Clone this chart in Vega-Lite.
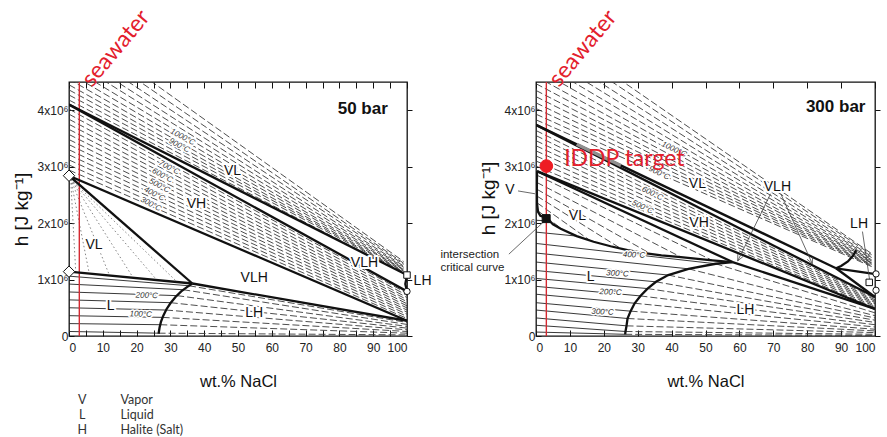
{
"$schema": "https://vega.github.io/schema/vega-lite/v6.json",
"background": "white",
"padding": {"left": 11, "top": 5, "right": 0, "bottom": 1},
"bounds": "flush",
"spacing": 129,
"config": {
  "view": {"stroke": "#111", "strokeWidth": 1.3},
  "axis": {"grid": false, "domain": false, "labelFont": "Liberation Sans", "titleFont": "Liberation Sans", "labelFontSize": 12, "labelColor": "#222", "titleColor": "#111", "titleFontWeight": "normal", "tickColor": "#111", "tickWidth": 1},
  "text": {"font": "Liberation Sans"}
},
"datasets": {
"lines50": [
{"id":"a1","k":"dash","x":0,"h":2.94},{"id":"a1","k":"dash","x":100,"h":0.311},
{"id":"a2","k":"dash","x":0,"h":3.03},{"id":"a2","k":"dash","x":100,"h":0.348},
{"id":"a3","k":"dash","x":0,"h":3.12},{"id":"a3","k":"dash","x":100,"h":0.386},
{"id":"a4","k":"dash","x":0,"h":3.21},{"id":"a4","k":"dash","x":100,"h":0.423},
{"id":"a5","k":"dash","x":0,"h":3.30},{"id":"a5","k":"dash","x":100,"h":0.46},
{"id":"a6","k":"dash","x":0,"h":3.39},{"id":"a6","k":"dash","x":100,"h":0.497},
{"id":"a7","k":"dash","x":0,"h":3.48},{"id":"a7","k":"dash","x":100,"h":0.534},
{"id":"a8","k":"dash","x":0,"h":3.57},{"id":"a8","k":"dash","x":100,"h":0.571},
{"id":"a9","k":"dash","x":0,"h":3.66},{"id":"a9","k":"dash","x":100,"h":0.608},
{"id":"a10","k":"dash","x":0,"h":3.75},{"id":"a10","k":"dash","x":100,"h":0.645},
{"id":"a11","k":"dash","x":0,"h":3.84},{"id":"a11","k":"dash","x":100,"h":0.682},
{"id":"a12","k":"dash","x":0,"h":3.93},{"id":"a12","k":"dash","x":100,"h":0.72},
{"id":"a13","k":"dash","x":0,"h":4.02},{"id":"a13","k":"dash","x":100,"h":0.757},
{"id":"u1","k":"dash","x":0,"h":4.18},{"id":"u1","k":"dash","x":99,"h":1.11},
{"id":"u2","k":"dash","x":0,"h":4.27},{"id":"u2","k":"dash","x":99,"h":1.13},
{"id":"u3","k":"dash","x":0,"h":4.36},{"id":"u3","k":"dash","x":99,"h":1.14},
{"id":"u4","k":"dash","x":0,"h":4.45},{"id":"u4","k":"dash","x":99,"h":1.15},
{"id":"u5","k":"dash","x":0,"h":4.55},{"id":"u5","k":"dash","x":99,"h":1.17},
{"id":"u6","k":"dash","x":0,"h":4.66},{"id":"u6","k":"dash","x":99,"h":1.18},
{"id":"u7","k":"dash","x":0,"h":4.78},{"id":"u7","k":"dash","x":99,"h":1.2},
{"id":"u8","k":"dash","x":0,"h":4.91},{"id":"u8","k":"dash","x":99,"h":1.22},
{"id":"u9","k":"dash","x":0,"h":5.05},{"id":"u9","k":"dash","x":99,"h":1.24},
{"id":"u10","k":"dash","x":0,"h":5.2},{"id":"u10","k":"dash","x":99,"h":1.27},
{"id":"u11","k":"dash","x":0,"h":5.37},{"id":"u11","k":"dash","x":99,"h":1.29},
{"id":"u12","k":"dash","x":0,"h":5.55},{"id":"u12","k":"dash","x":99,"h":1.32},
{"id":"l1","k":"dash","x":26.5,"h":0.05},{"id":"l1","k":"dash","x":100,"h":0.02},
{"id":"l2","k":"dash","x":27,"h":0.2},{"id":"l2","k":"dash","x":100,"h":0.05},
{"id":"l3","k":"dash","x":27.7,"h":0.33},{"id":"l3","k":"dash","x":100,"h":0.08},
{"id":"l4","k":"dash","x":28.7,"h":0.46},{"id":"l4","k":"dash","x":100,"h":0.11},
{"id":"l5","k":"dash","x":30.1,"h":0.59},{"id":"l5","k":"dash","x":100,"h":0.14},
{"id":"l6","k":"dash","x":32,"h":0.715},{"id":"l6","k":"dash","x":100,"h":0.17},
{"id":"l7","k":"dash","x":33.8,"h":0.82},{"id":"l7","k":"dash","x":100,"h":0.205},
{"id":"l8","k":"dash","x":35.5,"h":0.89},{"id":"l8","k":"dash","x":100,"h":0.24},
{"id":"t1","k":"dot","x":0.5,"h":2.78},{"id":"t1","k":"dot","x":2,"h":1.128},
{"id":"t2","k":"dot","x":0.5,"h":2.78},{"id":"t2","k":"dot","x":6,"h":1.105},
{"id":"t3","k":"dot","x":0.5,"h":2.78},{"id":"t3","k":"dot","x":12,"h":1.071},
{"id":"t4","k":"dot","x":0.5,"h":2.78},{"id":"t4","k":"dot","x":19,"h":1.031},
{"id":"t5","k":"dot","x":0.5,"h":2.78},{"id":"t5","k":"dot","x":26,"h":0.99},
{"id":"t6","k":"dot","x":0.5,"h":2.78},{"id":"t6","k":"dot","x":32,"h":0.956},
{"id":"i1","k":"iso","x":0,"h":0.08},{"id":"i1","k":"iso","x":26.5,"h":0.05},
{"id":"i2","k":"iso","x":0,"h":0.22},{"id":"i2","k":"iso","x":27,"h":0.2},
{"id":"i3","k":"iso","x":0,"h":0.36},{"id":"i3","k":"iso","x":27.7,"h":0.33},
{"id":"i4","k":"iso","x":0,"h":0.5},{"id":"i4","k":"iso","x":28.7,"h":0.46},
{"id":"i5","k":"iso","x":0,"h":0.64},{"id":"i5","k":"iso","x":30.1,"h":0.59},
{"id":"i6","k":"iso","x":0,"h":0.78},{"id":"i6","k":"iso","x":32,"h":0.715},
{"id":"i7","k":"iso","x":0,"h":0.92},{"id":"i7","k":"iso","x":33.8,"h":0.82},
{"id":"i8","k":"iso","x":0,"h":1.06},{"id":"i8","k":"iso","x":35.5,"h":0.89},
{"id":"b1","k":"bound","x":0,"h":4.1},{"id":"b1","k":"bound","x":100,"h":1.08},
{"id":"b2","k":"bound","x":0,"h":4.1},{"id":"b2","k":"bound","x":100,"h":0.79},
{"id":"b3","k":"bound","x":100,"h":1.08},{"id":"b3","k":"bound","x":99.5,"h":0.92},{"id":"b3","k":"bound","x":100,"h":0.79},
{"id":"b4","k":"bound","x":0,"h":2.84},{"id":"b4","k":"bound","x":100,"h":0.27},
{"id":"b5","k":"bound","x":0,"h":2.84},{"id":"b5","k":"bound","x":36.5,"h":0.93},
{"id":"b6","k":"bound","x":36.5,"h":0.93},{"id":"b6","k":"bound","x":100,"h":0.27},
{"id":"b7","k":"bound","x":0,"h":1.14},{"id":"b7","k":"bound","x":36.5,"h":0.93},
{"id":"b8","k":"bound","x":26.5,"h":0.04},{"id":"b8","k":"bound","x":26.8,"h":0.15},{"id":"b8","k":"bound","x":27.2,"h":0.25},{"id":"b8","k":"bound","x":27.9,"h":0.36},{"id":"b8","k":"bound","x":28.8,"h":0.47},{"id":"b8","k":"bound","x":30,"h":0.58},{"id":"b8","k":"bound","x":31.5,"h":0.69},{"id":"b8","k":"bound","x":33.2,"h":0.79},{"id":"b8","k":"bound","x":35,"h":0.87},{"id":"b8","k":"bound","x":36.5,"h":0.93},
{"id":"r","k":"red","x":3.05,"h":0},{"id":"r","k":"red","x":3.05,"h":4.5}
],
"lines300": [
{"id":"a1","k":"dash","x":0,"h":3.01},{"id":"a1","k":"dash","x":100,"h":0.503},
{"id":"a2","k":"dash","x":0,"h":3.1},{"id":"a2","k":"dash","x":100,"h":0.526},
{"id":"a3","k":"dash","x":0,"h":3.19},{"id":"a3","k":"dash","x":100,"h":0.549},
{"id":"a4","k":"dash","x":0,"h":3.28},{"id":"a4","k":"dash","x":100,"h":0.572},
{"id":"a5","k":"dash","x":0,"h":3.37},{"id":"a5","k":"dash","x":100,"h":0.595},
{"id":"a6","k":"dash","x":0,"h":3.46},{"id":"a6","k":"dash","x":100,"h":0.618},
{"id":"a7","k":"dash","x":0,"h":3.55},{"id":"a7","k":"dash","x":100,"h":0.641},
{"id":"a8","k":"dash","x":0,"h":3.64},{"id":"a8","k":"dash","x":100,"h":0.664},
{"id":"u1","k":"dash","x":0,"h":3.83},{"id":"u1","k":"dash","x":99,"h":1.23},
{"id":"u2","k":"dash","x":0,"h":3.93},{"id":"u2","k":"dash","x":99,"h":1.245},
{"id":"u3","k":"dash","x":0,"h":4.03},{"id":"u3","k":"dash","x":99,"h":1.26},
{"id":"u4","k":"dash","x":0,"h":4.13},{"id":"u4","k":"dash","x":99,"h":1.27},
{"id":"u5","k":"dash","x":0,"h":4.24},{"id":"u5","k":"dash","x":99,"h":1.29},
{"id":"u6","k":"dash","x":0,"h":4.35},{"id":"u6","k":"dash","x":99,"h":1.3},
{"id":"u7","k":"dash","x":0,"h":4.47},{"id":"u7","k":"dash","x":99,"h":1.32},
{"id":"u8","k":"dash","x":0,"h":4.6},{"id":"u8","k":"dash","x":99,"h":1.33},
{"id":"u9","k":"dash","x":0,"h":4.74},{"id":"u9","k":"dash","x":99,"h":1.35},
{"id":"u10","k":"dash","x":0,"h":4.89},{"id":"u10","k":"dash","x":99,"h":1.37},
{"id":"u11","k":"dash","x":0,"h":5.05},{"id":"u11","k":"dash","x":99,"h":1.39},
{"id":"u12","k":"dash","x":0,"h":5.22},{"id":"u12","k":"dash","x":99,"h":1.41},
{"id":"u13","k":"dash","x":0,"h":5.4},{"id":"u13","k":"dash","x":99,"h":1.44},
{"id":"u14","k":"dash","x":0,"h":5.57},{"id":"u14","k":"dash","x":99,"h":1.46},
{"id":"v1","k":"dash","x":0.25,"h":2.85},{"id":"v1","k":"dash","x":52,"h":1.34},
{"id":"v2","k":"dash","x":0.25,"h":2.72},{"id":"v2","k":"dash","x":43,"h":1.39},
{"id":"v3","k":"dash","x":0.25,"h":2.6},{"id":"v3","k":"dash","x":34,"h":1.45},
{"id":"v4","k":"dash","x":0.25,"h":2.48},{"id":"v4","k":"dash","x":25,"h":1.55},
{"id":"v5","k":"dash","x":0.3,"h":2.36},{"id":"v5","k":"dash","x":16,"h":1.69},
{"id":"v6","k":"dash","x":0.5,"h":2.22},{"id":"v6","k":"dash","x":8,"h":1.88},
{"id":"l1","k":"dash","x":26.3,"h":0.03},{"id":"l1","k":"dash","x":100,"h":0.01},
{"id":"l2","k":"dash","x":26.4,"h":0.08},{"id":"l2","k":"dash","x":100,"h":0.03},
{"id":"l3","k":"dash","x":26.7,"h":0.18},{"id":"l3","k":"dash","x":100,"h":0.06},
{"id":"l4","k":"dash","x":27,"h":0.31},{"id":"l4","k":"dash","x":100,"h":0.09},
{"id":"l5","k":"dash","x":27.9,"h":0.44},{"id":"l5","k":"dash","x":100,"h":0.12},
{"id":"l6","k":"dash","x":29.1,"h":0.58},{"id":"l6","k":"dash","x":100,"h":0.16},
{"id":"l7","k":"dash","x":30.8,"h":0.71},{"id":"l7","k":"dash","x":100,"h":0.2},
{"id":"l8","k":"dash","x":32.9,"h":0.84},{"id":"l8","k":"dash","x":100,"h":0.24},
{"id":"l9","k":"dash","x":35.4,"h":0.96},{"id":"l9","k":"dash","x":100,"h":0.28},
{"id":"l10","k":"dash","x":39,"h":1.08},{"id":"l10","k":"dash","x":100,"h":0.32},
{"id":"l11","k":"dash","x":45,"h":1.19},{"id":"l11","k":"dash","x":100,"h":0.36},
{"id":"l12","k":"dash","x":53,"h":1.28},{"id":"l12","k":"dash","x":100,"h":0.41},
{"id":"i1","k":"iso","x":0,"h":0.07},{"id":"i1","k":"iso","x":26.3,"h":0.03},
{"id":"i2","k":"iso","x":0,"h":0.19},{"id":"i2","k":"iso","x":26.4,"h":0.08},
{"id":"i3","k":"iso","x":0,"h":0.32},{"id":"i3","k":"iso","x":26.7,"h":0.18},
{"id":"i4","k":"iso","x":0,"h":0.46},{"id":"i4","k":"iso","x":27,"h":0.31},
{"id":"i5","k":"iso","x":0,"h":0.59},{"id":"i5","k":"iso","x":27.9,"h":0.44},
{"id":"i6","k":"iso","x":0,"h":0.74},{"id":"i6","k":"iso","x":29.1,"h":0.58},
{"id":"i7","k":"iso","x":0,"h":0.88},{"id":"i7","k":"iso","x":30.8,"h":0.71},
{"id":"i8","k":"iso","x":0,"h":1.02},{"id":"i8","k":"iso","x":32.9,"h":0.84},
{"id":"i9","k":"iso","x":0,"h":1.16},{"id":"i9","k":"iso","x":35.4,"h":0.96},
{"id":"i10","k":"iso","x":0,"h":1.31},{"id":"i10","k":"iso","x":39,"h":1.08},
{"id":"i11","k":"iso","x":0,"h":1.47},{"id":"i11","k":"iso","x":45,"h":1.19},
{"id":"i12","k":"iso","x":0,"h":1.64},{"id":"i12","k":"iso","x":53,"h":1.28},
{"id":"i13","k":"iso","x":0,"h":1.84},{"id":"i13","k":"iso","x":12,"h":1.77},
{"id":"i14","k":"iso","x":0,"h":2.05},{"id":"i14","k":"iso","x":4,"h":2.04},
{"id":"R1","k":"bound","x":0,"h":3.74},{"id":"R1","k":"bound","x":88.5,"h":1.2},
{"id":"R2","k":"bound","x":0,"h":3.74},{"id":"R2","k":"bound","x":100,"h":0.69},
{"id":"R3","k":"bound","x":88.5,"h":1.2},{"id":"R3","k":"bound","x":100,"h":0.69},
{"id":"R4","k":"bound","x":0.3,"h":2.92},{"id":"R4","k":"bound","x":58,"h":1.31},
{"id":"R5","k":"bound","x":0.3,"h":2.92},{"id":"R5","k":"bound","x":100,"h":0.48},
{"id":"R6","k":"bound","x":58,"h":1.31},{"id":"R6","k":"bound","x":100,"h":0.48},
{"id":"VAP","k":"bound","x":0.3,"h":2.92},{"id":"VAP","k":"bound","x":0.25,"h":2.6},{"id":"VAP","k":"bound","x":0.3,"h":2.35},{"id":"VAP","k":"bound","x":0.6,"h":2.2},{"id":"VAP","k":"bound","x":1.3,"h":2.13},{"id":"VAP","k":"bound","x":3.2,"h":2.09},
{"id":"LIQ","k":"bound","x":3.2,"h":2.09},{"id":"LIQ","k":"bound","x":5,"h":1.98},{"id":"LIQ","k":"bound","x":7.3,"h":1.9},{"id":"LIQ","k":"bound","x":12,"h":1.77},{"id":"LIQ","k":"bound","x":17,"h":1.67},{"id":"LIQ","k":"bound","x":22,"h":1.59},{"id":"LIQ","k":"bound","x":27,"h":1.52},{"id":"LIQ","k":"bound","x":32,"h":1.47},{"id":"LIQ","k":"bound","x":37,"h":1.43},{"id":"LIQ","k":"bound","x":42,"h":1.4},{"id":"LIQ","k":"bound","x":47,"h":1.37},{"id":"LIQ","k":"bound","x":52,"h":1.34},{"id":"LIQ","k":"bound","x":58,"h":1.31},
{"id":"LQS","k":"bound","x":26.3,"h":0.03},{"id":"LQS","k":"bound","x":26.4,"h":0.08},{"id":"LQS","k":"bound","x":26.7,"h":0.18},{"id":"LQS","k":"bound","x":27,"h":0.31},{"id":"LQS","k":"bound","x":27.9,"h":0.44},{"id":"LQS","k":"bound","x":29.1,"h":0.58},{"id":"LQS","k":"bound","x":30.8,"h":0.71},{"id":"LQS","k":"bound","x":32.9,"h":0.84},{"id":"LQS","k":"bound","x":35.4,"h":0.96},{"id":"LQS","k":"bound","x":39,"h":1.08},{"id":"LQS","k":"bound","x":45,"h":1.19},{"id":"LQS","k":"bound","x":53,"h":1.28},{"id":"LQS","k":"bound","x":58,"h":1.31},
{"id":"UC","k":"bound","x":88.5,"h":1.2},{"id":"UC","k":"bound","x":90,"h":1.24},{"id":"UC","k":"bound","x":92,"h":1.32},{"id":"UC","k":"bound","x":93.5,"h":1.42},{"id":"UC","k":"bound","x":94.5,"h":1.52},
{"id":"UT","k":"bound","x":88.5,"h":1.2},{"id":"UT","k":"bound","x":99.7,"h":1.1},
{"id":"g1","k":"gray","x":12,"h":3.396},{"id":"g1","k":"gray","x":25,"h":3.02},
{"id":"r","k":"red","x":3.05,"h":0},{"id":"r","k":"red","x":3.05,"h":4.5},
{"id":"k1","k":"lead","x":-5.3,"h":2.57},{"id":"k1","k":"lead","x":-0.3,"h":2.52},
{"id":"k2","k":"lead","x":-8,"h":1.45},{"id":"k2","k":"lead","x":2.2,"h":2.02},
{"id":"k3","k":"lead","x":69.2,"h":2.52},{"id":"k3","k":"lead","x":59.5,"h":1.33},
{"id":"k4","k":"lead","x":61.1,"h":1.41},{"id":"k4","k":"lead","x":59.5,"h":1.33},{"id":"k4","k":"lead","x":59.53,"h":1.45},
{"id":"k5","k":"lead","x":72.2,"h":2.52},{"id":"k5","k":"lead","x":81.5,"h":1.28},
{"id":"k6","k":"lead","x":81.58,"h":1.4},{"id":"k6","k":"lead","x":81.5,"h":1.28},{"id":"k6","k":"lead","x":79.97,"h":1.36},
{"id":"k7","k":"lead","x":96.3,"h":1.85},{"id":"k7","k":"lead","x":98.4,"h":1.0}
],
"marks50": [
{"m":"dia","x":0,"h":2.84},{"m":"dia","x":0,"h":1.14},{"m":"sqo","x":100,"h":1.08},{"m":"cio","x":100,"h":0.79}
],
"marks300": [
{"m":"red","x":3.05,"h":3.01},{"m":"sqb","x":3.0,"h":2.08},{"m":"sqo","x":98.3,"h":0.95},{"m":"cio","x":100.3,"h":1.1},{"m":"cio","x":100.3,"h":0.81}
],
"text50": [
{"g":"phase","t":"VL","x":48.4,"h":2.93},{"g":"phase","t":"VH","x":37.7,"h":2.33},{"g":"phase","t":"VL","x":7.4,"h":1.61},{"g":"phase","t":"VLH","x":54.8,"h":1.02},{"g":"phase","t":"VLH","x":87.4,"h":1.3},{"g":"phase","t":"L","x":12.3,"h":0.54},{"g":"phase","t":"LH","x":54.8,"h":0.41},{"g":"phase","t":"LH","x":104.6,"h":0.98},
{"g":"bar","t":"50 bar","x":86.9,"h":4.02},
{"g":"isoA","t":"1000°C","x":33.6,"h":3.52},{"g":"isoA","t":"900°C","x":32.6,"h":3.37},{"g":"isoA","t":"700°C","x":29.6,"h":2.98},{"g":"isoA","t":"600°C","x":27.6,"h":2.84},{"g":"isoA","t":"500°C","x":26.7,"h":2.66},{"g":"isoA","t":"400°C","x":25.2,"h":2.51},{"g":"isoA","t":"300°C","x":24.2,"h":2.33},
{"g":"isoF","t":"200°C","x":23,"h":0.71},{"g":"isoF","t":"100°C","x":21.2,"h":0.38},
{"g":"sea","t":"seawater","x":3.05,"h":4.5},
{"g":"legC","t":"V","x":3.9,"h":-1.13},{"g":"legC","t":"L","x":3.9,"h":-1.4},{"g":"legC","t":"H","x":3.9,"h":-1.67},
{"g":"legL","t":"Vapor","x":15.2,"h":-1.13},{"g":"legL","t":"Liquid","x":15.2,"h":-1.4},{"g":"legL","t":"Halite (Salt)","x":15.2,"h":-1.67}
],
"text300": [
{"g":"phase","t":"VL","x":47.6,"h":2.7},{"g":"phase","t":"VH","x":48.1,"h":2.01},{"g":"phase","t":"VL","x":12.2,"h":2.12},{"g":"phase","t":"L","x":16.1,"h":1.05},{"g":"phase","t":"LH","x":61.8,"h":0.46},{"g":"phase","t":"VLH","x":71.2,"h":2.64},{"g":"phase","t":"LH","x":95.3,"h":1.99},{"g":"phase","t":"V","x":-7.7,"h":2.58},
{"g":"bar","t":"300 bar","x":88.4,"h":4.05},
{"g":"isoA","t":"1000°C","x":40.7,"h":3.3},{"g":"isoA","t":"900°C","x":36.3,"h":2.88},{"g":"isoA","t":"600°C","x":34.3,"h":2.52},{"g":"isoA","t":"500°C","x":31.4,"h":2.28},
{"g":"isoF","t":"400°C","x":28.9,"h":1.43},{"g":"isoF","t":"300°C","x":24,"h":1.1},{"g":"isoF","t":"200°C","x":22,"h":0.77},{"g":"isoF","t":"300°C","x":19.6,"h":0.42},
{"g":"note","t":"intersection","x":-28.2,"h":1.44},{"g":"note","t":"critical curve","x":-28.2,"h":1.21},
{"g":"iddp","t":"IDDP target","x":8.3,"h":3.01},
{"g":"sea","t":"seawater","x":3.05,"h":4.5}
]
},
"hconcat": [
{
"width": 338, "height": 254,
"encoding": {
  "x": {"field": "x", "type": "quantitative", "scale": {"domain": [0, 100], "nice": false, "zero": false}, "axis": null},
  "y": {"field": "h", "type": "quantitative", "scale": {"domain": [0, 4.5], "nice": false, "zero": false}, "axis": null}
},
"resolve": {"axis": {"x": "independent", "y": "independent"}},
"layer": [
{"data": {"name": "lines50"}, "transform": [{"filter": "datum.k === 'dash'"}],
 "mark": {"type": "line", "clip": true, "color": "#3a3a3a", "strokeWidth": 0.9, "strokeDash": [7, 3]},
 "encoding": {
  "x": {"field": "x", "type": "quantitative", "scale": {"domain": [0, 100], "nice": false, "zero": false},
        "axis": {"orient": "bottom", "values": [0,5,10,15,20,25,30,35,40,45,50,55,60,65,70,75,80,85,90,95,100], "labelExpr": "datum.value % 10 === 0 ? datum.label : ''", "tickSize": -6, "labelPadding": 12, "title": "wt.% NaCl", "titleFontSize": 16.5, "titlePadding": 20}},
  "y": {"field": "h", "type": "quantitative", "scale": {"domain": [0, 4.5], "nice": false, "zero": false},
        "axis": {"orient": "left", "values": [0,1,2,3,4], "labelExpr": "datum.value === 0 ? '0' : datum.value + 'x10⁶'", "tickSize": -5, "labelPadding": 6, "title": "h [J kg⁻¹]", "titleFontSize": 19, "titlePadding": 6}},
  "detail": {"field": "id"}, "order": {"value": null}}},
{"data": {"name": "lines50"}, "transform": [{"filter": "datum.k === 'dot'"}],
 "mark": {"type": "line", "clip": true, "color": "#777", "strokeWidth": 0.9, "strokeDash": [1.5, 2.5]},
 "encoding": {"detail": {"field": "id"}, "order": {"value": null}}},
{"data": {"name": "lines50"}, "transform": [{"filter": "datum.k === 'iso'"}],
 "mark": {"type": "line", "clip": true, "color": "#222", "strokeWidth": 0.9},
 "encoding": {"detail": {"field": "id"}, "order": {"value": null}}},
{"data": {"name": "lines50"}, "transform": [{"filter": "datum.k === 'red'"}],
 "mark": {"type": "line", "clip": true, "color": "#d42a32", "strokeWidth": 1.4},
 "encoding": {"detail": {"field": "id"}, "order": {"value": null}}},
{"data": {"name": "lines50"}, "transform": [{"filter": "datum.k === 'bound'"}],
 "mark": {"type": "line", "clip": true, "color": "#111", "strokeWidth": 2.3},
 "encoding": {
  "x": {"field": "x", "type": "quantitative", "scale": {"domain": [0, 100], "nice": false, "zero": false},
        "axis": {"orient": "top", "values": [0,5,10,15,20,25,30,35,40,45,50,55,60,65,70,75,80,85,90,95,100], "labels": false, "tickSize": -6, "title": null}},
  "y": {"field": "h", "type": "quantitative", "scale": {"domain": [0, 4.5], "nice": false, "zero": false},
        "axis": {"orient": "right", "values": [0,1,2,3,4], "labels": false, "tickSize": 5, "title": null}},
  "detail": {"field": "id"}, "order": {"value": null}}},
{"data": {"name": "marks50"}, "transform": [{"filter": "datum.m === 'dia'"}],
 "mark": {"type": "point", "shape": "diamond", "size": 130, "filled": true, "fill": "white", "stroke": "#111", "strokeWidth": 1, "opacity": 1}},
{"data": {"name": "marks50"}, "transform": [{"filter": "datum.m === 'sqo'"}],
 "mark": {"type": "point", "shape": "square", "size": 42, "filled": true, "fill": "white", "stroke": "#111", "strokeWidth": 1, "opacity": 1}},
{"data": {"name": "marks50"}, "transform": [{"filter": "datum.m === 'cio'"}],
 "mark": {"type": "point", "shape": "circle", "size": 40, "filled": true, "fill": "white", "stroke": "#111", "strokeWidth": 1, "opacity": 1}},
{"data": {"name": "text50"}, "transform": [{"filter": "datum.g === 'phase'"}],
 "mark": {"type": "text", "fontSize": 14, "fill": "white", "stroke": "white", "strokeWidth": 4, "strokeJoin": "round"},
 "encoding": {"text": {"field": "t"}}},
{"data": {"name": "text50"}, "transform": [{"filter": "datum.g === 'phase'"}],
 "mark": {"type": "text", "fontSize": 14, "fill": "#111"},
 "encoding": {"text": {"field": "t"}}},
{"data": {"name": "text50"}, "transform": [{"filter": "datum.g === 'isoA'"}],
 "mark": {"type": "text", "fontSize": 8, "fontStyle": "italic", "angle": 28, "fill": "white", "stroke": "white", "strokeWidth": 3, "strokeJoin": "round"},
 "encoding": {"text": {"field": "t"}}},
{"data": {"name": "text50"}, "transform": [{"filter": "datum.g === 'isoA'"}],
 "mark": {"type": "text", "fontSize": 8, "fontStyle": "italic", "angle": 28, "fill": "#333"},
 "encoding": {"text": {"field": "t"}}},
{"data": {"name": "text50"}, "transform": [{"filter": "datum.g === 'isoF'"}],
 "mark": {"type": "text", "fontSize": 8, "fontStyle": "italic", "angle": 2, "fill": "white", "stroke": "white", "strokeWidth": 3, "strokeJoin": "round"},
 "encoding": {"text": {"field": "t"}}},
{"data": {"name": "text50"}, "transform": [{"filter": "datum.g === 'isoF'"}],
 "mark": {"type": "text", "fontSize": 8, "fontStyle": "italic", "angle": 2, "fill": "#333"},
 "encoding": {"text": {"field": "t"}}},
{"data": {"name": "text50"}, "transform": [{"filter": "datum.g === 'bar'"}],
 "mark": {"type": "text", "fontSize": 17, "fontWeight": "bold", "fill": "#111"},
 "encoding": {"text": {"field": "t"}}},
{"data": {"name": "text50"}, "transform": [{"filter": "datum.g === 'sea'"}],
 "mark": {"type": "text", "font": "Lato", "fontSize": 23, "angle": -50, "align": "left", "baseline": "alphabetic", "dx": 3.6, "dy": 13.5, "fill": "#e3202c"},
 "encoding": {"text": {"field": "t"}}},
{"data": {"name": "text50"}, "transform": [{"filter": "datum.g === 'legC'"}],
 "mark": {"type": "text", "font": "Lato", "fontSize": 12.5, "align": "center", "fill": "#333"},
 "encoding": {"text": {"field": "t"}}},
{"data": {"name": "text50"}, "transform": [{"filter": "datum.g === 'legL'"}],
 "mark": {"type": "text", "font": "Lato", "fontSize": 12.5, "align": "left", "fill": "#333"},
 "encoding": {"text": {"field": "t"}}}
]
},
{
"width": 339, "height": 254,
"encoding": {
  "x": {"field": "x", "type": "quantitative", "scale": {"domain": [0, 100], "nice": false, "zero": false}, "axis": null},
  "y": {"field": "h", "type": "quantitative", "scale": {"domain": [0, 4.5], "nice": false, "zero": false}, "axis": null}
},
"resolve": {"axis": {"x": "independent", "y": "independent"}},
"layer": [
{"data": {"name": "lines300"}, "transform": [{"filter": "datum.k === 'dash'"}],
 "mark": {"type": "line", "clip": true, "color": "#3a3a3a", "strokeWidth": 0.9, "strokeDash": [7, 3]},
 "encoding": {
  "x": {"field": "x", "type": "quantitative", "scale": {"domain": [0, 100], "nice": false, "zero": false},
        "axis": {"orient": "bottom", "values": [0,10,20,30,40,50,60,70,80,90,100], "tickSize": -6, "labelPadding": 12, "title": "wt.% NaCl", "titleFontSize": 16.5, "titlePadding": 20}},
  "y": {"field": "h", "type": "quantitative", "scale": {"domain": [0, 4.5], "nice": false, "zero": false},
        "axis": {"orient": "left", "values": [0,1,2,3,4], "labelExpr": "datum.value === 0 ? '0' : datum.value + 'x10⁶'", "tickSize": -5, "labelPadding": 6, "title": "h [J kg⁻¹]", "titleFontSize": 19, "titlePadding": 6, "titleY": 116}},
  "detail": {"field": "id"}, "order": {"value": null}}},
{"data": {"name": "lines300"}, "transform": [{"filter": "datum.k === 'iso'"}],
 "mark": {"type": "line", "clip": true, "color": "#222", "strokeWidth": 0.9},
 "encoding": {"detail": {"field": "id"}, "order": {"value": null}}},
{"data": {"name": "lines300"}, "transform": [{"filter": "datum.k === 'red'"}],
 "mark": {"type": "line", "clip": true, "color": "#d42a32", "strokeWidth": 1.4},
 "encoding": {"detail": {"field": "id"}, "order": {"value": null}}},
{"data": {"name": "lines300"}, "transform": [{"filter": "datum.k === 'bound'"}],
 "mark": {"type": "line", "clip": true, "color": "#111", "strokeWidth": 2.3},
 "encoding": {
  "x": {"field": "x", "type": "quantitative", "scale": {"domain": [0, 100], "nice": false, "zero": false},
        "axis": {"orient": "top", "values": [0,10,20,30,40,50,60,70,80,90,100], "labels": false, "tickSize": -6, "title": null}},
  "y": {"field": "h", "type": "quantitative", "scale": {"domain": [0, 4.5], "nice": false, "zero": false},
        "axis": {"orient": "right", "values": [0,1,2,3,4], "labels": false, "tickSize": 5, "title": null}},
  "detail": {"field": "id"}, "order": {"value": null}}},
{"data": {"name": "lines300"}, "transform": [{"filter": "datum.k === 'gray'"}],
 "mark": {"type": "line", "clip": true, "color": "#8f8f8f", "strokeWidth": 3.4},
 "encoding": {"detail": {"field": "id"}, "order": {"value": null}}},
{"data": {"name": "lines300"}, "transform": [{"filter": "datum.k === 'lead'"}],
 "mark": {"type": "line", "clip": false, "color": "#444", "strokeWidth": 0.8},
 "encoding": {"detail": {"field": "id"}, "order": {"value": null}}},
{"data": {"name": "marks300"}, "transform": [{"filter": "datum.m === 'sqo'"}],
 "mark": {"type": "point", "shape": "square", "size": 42, "filled": true, "fill": "white", "stroke": "#111", "strokeWidth": 1, "opacity": 1}},
{"data": {"name": "marks300"}, "transform": [{"filter": "datum.m === 'cio'"}],
 "mark": {"type": "point", "shape": "circle", "size": 40, "filled": true, "fill": "white", "stroke": "#111", "strokeWidth": 1, "opacity": 1}},
{"data": {"name": "marks300"}, "transform": [{"filter": "datum.m === 'sqb'"}],
 "mark": {"type": "point", "shape": "square", "size": 64, "filled": true, "fill": "#111", "stroke": "#111", "strokeWidth": 1, "opacity": 1}},
{"data": {"name": "marks300"}, "transform": [{"filter": "datum.m === 'red'"}],
 "mark": {"type": "point", "shape": "circle", "size": 160, "filled": true, "fill": "#ee1c24", "stroke": "#ee1c24", "strokeWidth": 1, "opacity": 1}},
{"data": {"name": "text300"}, "transform": [{"filter": "datum.g === 'phase'"}],
 "mark": {"type": "text", "fontSize": 14, "fill": "white", "stroke": "white", "strokeWidth": 4, "strokeJoin": "round"},
 "encoding": {"text": {"field": "t"}}},
{"data": {"name": "text300"}, "transform": [{"filter": "datum.g === 'phase'"}],
 "mark": {"type": "text", "fontSize": 14, "fill": "#111"},
 "encoding": {"text": {"field": "t"}}},
{"data": {"name": "text300"}, "transform": [{"filter": "datum.g === 'isoA'"}],
 "mark": {"type": "text", "fontSize": 8, "fontStyle": "italic", "angle": 26, "fill": "white", "stroke": "white", "strokeWidth": 3, "strokeJoin": "round"},
 "encoding": {"text": {"field": "t"}}},
{"data": {"name": "text300"}, "transform": [{"filter": "datum.g === 'isoA'"}],
 "mark": {"type": "text", "fontSize": 8, "fontStyle": "italic", "angle": 26, "fill": "#333"},
 "encoding": {"text": {"field": "t"}}},
{"data": {"name": "text300"}, "transform": [{"filter": "datum.g === 'isoF'"}],
 "mark": {"type": "text", "fontSize": 8, "fontStyle": "italic", "angle": 3, "fill": "white", "stroke": "white", "strokeWidth": 3, "strokeJoin": "round"},
 "encoding": {"text": {"field": "t"}}},
{"data": {"name": "text300"}, "transform": [{"filter": "datum.g === 'isoF'"}],
 "mark": {"type": "text", "fontSize": 8, "fontStyle": "italic", "angle": 3, "fill": "#333"},
 "encoding": {"text": {"field": "t"}}},
{"data": {"name": "text300"}, "transform": [{"filter": "datum.g === 'bar'"}],
 "mark": {"type": "text", "fontSize": 17, "fontWeight": "bold", "fill": "#111"},
 "encoding": {"text": {"field": "t"}}},
{"data": {"name": "text300"}, "transform": [{"filter": "datum.g === 'note'"}],
 "mark": {"type": "text", "fontSize": 11.5, "align": "left", "baseline": "middle", "fill": "#222"},
 "encoding": {"text": {"field": "t"}}},
{"data": {"name": "text300"}, "transform": [{"filter": "datum.g === 'iddp'"}],
 "mark": {"type": "text", "font": "Lato", "fontSize": 23, "align": "left", "baseline": "alphabetic", "fill": "#e3202c"},
 "encoding": {"text": {"field": "t"}}},
{"data": {"name": "text300"}, "transform": [{"filter": "datum.g === 'sea'"}],
 "mark": {"type": "text", "font": "Lato", "fontSize": 23, "angle": -50, "align": "left", "baseline": "alphabetic", "dx": 3.6, "dy": 13.5, "fill": "#e3202c"},
 "encoding": {"text": {"field": "t"}}}
]
}
]
}
